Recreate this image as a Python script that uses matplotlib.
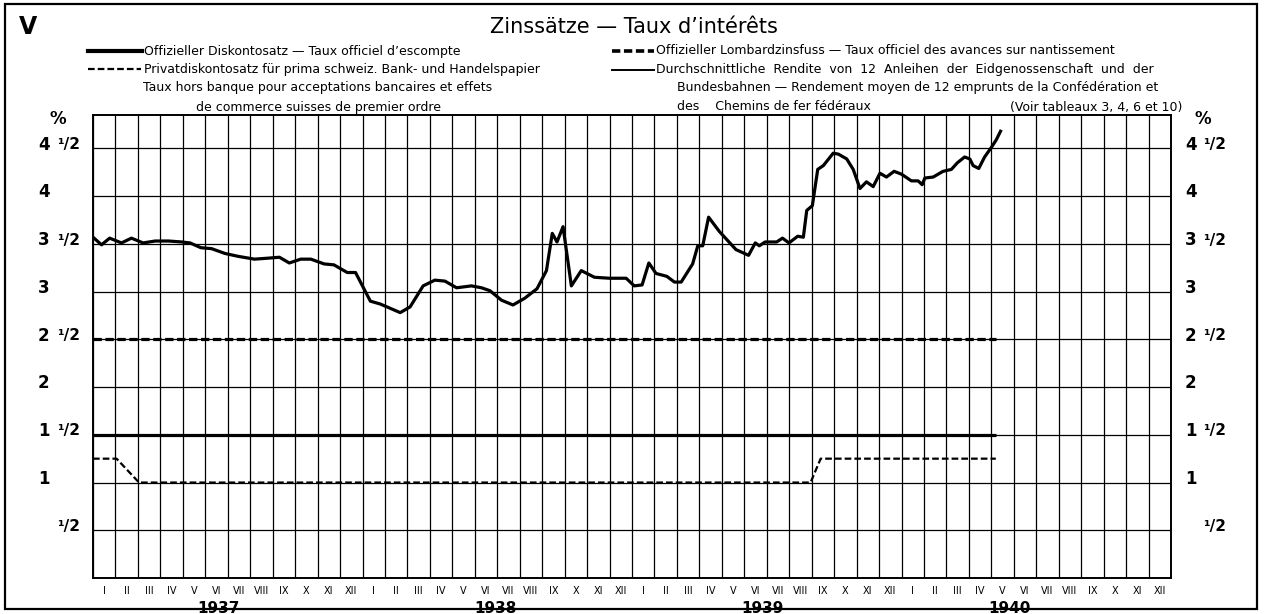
import matplotlib
matplotlib.use("Agg")
import matplotlib.pyplot as plt
from matplotlib.lines import Line2D
from matplotlib.patches import Rectangle

plt.rcParams['font.family'] = ['DejaVu Sans']
plt.rcParams['lines.scale_dashes'] = False

# ---------------- data ----------------
years = ["1937", "1938", "1939", "1940"]
month_labels = ["I", "II", "III", "IV", "V", "VI", "VII", "VIII", "IX", "X", "XI", "XII"]
year_label_pos = [5.6, 17.9, 29.8, 40.8]   # months since Jan 1937

# months since Jan 1937 -> %
disc_months = [0.0, 40.2]
disc_pct = [1.5, 1.5]

lomb_months = [0.0, 40.2]
lomb_pct = [2.5, 2.5]

priv_months = [0.0, 1.05, 2.05, 31.95, 32.4, 40.2]
priv_pct = [1.25, 1.25, 1.0, 1.0, 1.25, 1.25]

yield_months = [0.0, 0.38, 0.74, 1.27, 1.71, 2.23, 2.77, 3.36, 3.95, 4.32, 4.80, 5.28,
                5.87, 6.45, 7.19, 7.78, 8.30, 8.74, 9.25, 9.70, 10.29, 10.73, 11.32, 11.69,
                12.35, 12.79, 13.68, 14.12, 14.70, 15.22, 15.67, 16.19, 16.85, 17.30, 17.67,
                18.19, 18.70, 19.22, 19.77, 20.19, 20.45, 20.66, 20.93, 21.30, 21.74, 22.33,
                23.00, 23.74, 24.10, 24.45, 24.75, 25.07, 25.55, 25.89, 26.19, 26.70, 26.93,
                27.15, 27.41, 27.89, 28.63, 29.19, 29.49, 29.67, 29.93, 30.44, 30.70, 30.99,
                31.38, 31.63, 31.78, 32.03, 32.27, 32.52, 32.96, 33.19, 33.56, 33.85, 34.15,
                34.44, 34.74, 35.04, 35.33, 35.67, 36.00, 36.44, 36.74, 36.92, 37.04, 37.41,
                37.85, 38.22, 38.49, 38.81, 39.04, 39.19, 39.44, 39.70, 40.00, 40.22, 40.41]
yield_pct = [3.57, 3.49, 3.56, 3.51, 3.56, 3.51, 3.53, 3.53, 3.52, 3.51, 3.46, 3.45,
             3.40, 3.37, 3.34, 3.35, 3.36, 3.30, 3.34, 3.34, 3.29, 3.28, 3.20, 3.20,
             2.90, 2.87, 2.78, 2.84, 3.06, 3.12, 3.11, 3.04, 3.06, 3.04, 3.01,
             2.91, 2.86, 2.93, 3.03, 3.22, 3.61, 3.52, 3.68, 3.06, 3.22, 3.15,
             3.14, 3.14, 3.06, 3.07, 3.30, 3.19, 3.16, 3.10, 3.10, 3.29, 3.48,
             3.48, 3.78, 3.63, 3.44, 3.38, 3.51, 3.48, 3.52, 3.52, 3.56, 3.51,
             3.58, 3.57, 3.85, 3.90, 4.28, 4.32, 4.45, 4.44, 4.39, 4.28, 4.08,
             4.15, 4.10, 4.24, 4.20, 4.26, 4.23, 4.16, 4.16, 4.12, 4.19, 4.20,
             4.26, 4.28, 4.35, 4.41, 4.39, 4.32, 4.29, 4.41, 4.51, 4.59, 4.68]

ytick_vals = [0.5, 1.0, 1.5, 2.0, 2.5, 3.0, 3.5, 4.0, 4.5]
ytick_int = ["", "1", "1", "2", "2", "3", "3", "4", "4"]
ytick_frac = ["¹/2", "", "¹/2", "", "¹/2", "", "¹/2", "", "¹/2"]

# ---------------- figure ----------------
W, H = 1266, 614
fig = plt.figure(figsize=(W / 100, H / 100), dpi=100)
fig.patch.set_facecolor("white")

def fx(px):
    return px / W

def fy(py):
    return 1 - py / H

ax = fig.add_axes([fx(93), fy(578), fx(1171) - fx(93), fy(115) - fy(578)])
n_months = len(years) * 12
ax.set_xlim(0, n_months)
ax.set_ylim(0, 4.85)

# grid
ax.set_xticks(range(0, n_months + 1), minor=True)
ax.set_xticks([m + 0.5 for m in range(n_months)])
ax.set_xticklabels(month_labels * len(years), fontsize=7)
ax.set_yticks(ytick_vals)
ax.set_yticklabels([])
ax.tick_params(axis="both", which="both", length=0)
ax.tick_params(axis="x", pad=6)
ax.grid(True, which="minor", axis="x", color="black", lw=0.9)
ax.grid(True, which="major", axis="y", color="black", lw=0.9)
ax.set_axisbelow(True)
for s in ax.spines.values():
    s.set_linewidth(1.4)

# series
ax.plot(disc_months, disc_pct, color="black", lw=2.3, solid_capstyle="butt")
ax.plot(lomb_months, lomb_pct, color="black", lw=2.3, dashes=(6.0, 2.6))
ax.plot(priv_months, priv_pct, color="black", lw=1.6, dashes=(4.8, 2.2))
ax.plot(yield_months, yield_pct, color="black", lw=2.3, solid_joinstyle="round")

# y labels (left and right)
ytr = ax.get_yaxis_transform()
lab_kw = dict(fontsize=12, fontweight="bold", va="center", transform=ytr)
for v, i_s, f_s in zip(ytick_vals, ytick_int, ytick_frac):
    ax.text(-0.051, v + 0.04, i_s, ha="left", **lab_kw)
    ax.text(-0.0335, v + 0.04, f_s, ha="left", fontsize=11, fontweight="bold",
            va="center", transform=ytr)
    ax.text(1.013, v + 0.04, i_s, ha="left", **lab_kw)
    ax.text(1.030, v + 0.04, f_s, ha="left", fontsize=11, fontweight="bold",
            va="center", transform=ytr)

# year labels
xtr = ax.get_xaxis_transform()
for x, yl in zip(year_label_pos, years):
    ax.text(x, -0.066, yl, ha="center", va="center", fontsize=11,
            fontweight="bold", transform=xtr)

# ---------------- header ----------------
fig.text(fx(28), fy(27), "V", fontsize=17, fontweight="bold", ha="center", va="center")
fig.text(fx(634), fy(27), "Zinssätze — Taux d’intérêts", fontsize=15,
         ha="center", va="center")

fs = 9
# left legend column
fig.add_artist(Line2D([fx(88), fx(142)], [fy(51), fy(51)], color="black", lw=3.0))
fig.text(fx(144), fy(51), "Offizieller Diskontosatz — Taux officiel d’escompte",
         fontsize=fs, ha="left", va="center")
fig.add_artist(Line2D([fx(88), fx(141)], [fy(69), fy(69)], color="black", lw=1.6,
                      dashes=(4.8, 2.2)))
fig.text(fx(144), fy(69), "Privatdiskontosatz für prima schweiz. Bank- und Handelspapier",
         fontsize=fs, ha="left", va="center")
fig.text(fx(318), fy(88), "Taux hors banque pour acceptations bancaires et effets",
         fontsize=fs, ha="center", va="center")
fig.text(fx(318), fy(107), "de commerce suisses de premier ordre",
         fontsize=fs, ha="center", va="center")

# right legend column
fig.add_artist(Line2D([fx(612), fx(654)], [fy(51), fy(51)], color="black", lw=2.6,
                      dashes=(6.0, 2.6)))
fig.text(fx(656), fy(51),
         "Offizieller Lombardzinsfuss — Taux officiel des avances sur nantissement",
         fontsize=fs, ha="left", va="center")
fig.add_artist(Line2D([fx(612), fx(654)], [fy(70), fy(70)], color="black", lw=1.4))
fig.text(fx(656), fy(70),
         "Durchschnittliche  Rendite  von  12  Anleihen  der  Eidgenossenschaft  und  der",
         fontsize=fs, ha="left", va="center")
fig.text(fx(677), fy(88),
         "Bundesbahnen — Rendement moyen de 12 emprunts de la Confédération et",
         fontsize=fs, ha="left", va="center")
fig.text(fx(677), fy(107), "des    Chemins de fer fédéraux",
         fontsize=fs, ha="left", va="center")
fig.text(fx(1182), fy(107), "(Voir tableaux 3, 4, 6 et 10)",
         fontsize=fs, ha="right", va="center")

# percent signs
fig.text(fx(58), fy(119), "%", fontsize=12, fontweight="bold", ha="center", va="center")
fig.text(fx(1203), fy(119), "%", fontsize=12, fontweight="bold", ha="center", va="center")

# outer frame
fig.add_artist(Rectangle((fx(5), fy(609)), fx(1257) - fx(5), fy(4) - fy(609),
                         fill=False, edgecolor="black", lw=1.6, transform=fig.transFigure))

fig.savefig("out.png", dpi=100)
